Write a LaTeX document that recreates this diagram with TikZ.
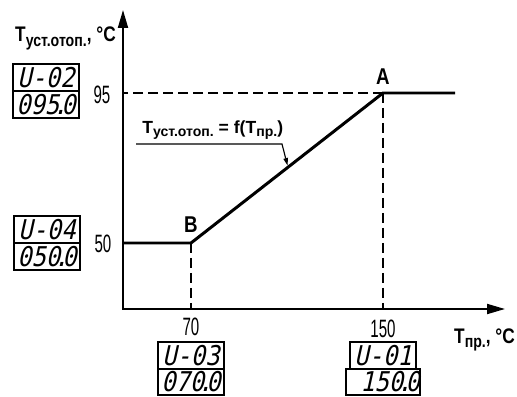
\documentclass[tikz,border=0pt]{standalone}
\usepackage{fontspec}
\setmainfont[FakeStretch=0.6]{Liberation Sans}
\newfontfamily\labelfont[FakeStretch=0.82]{Liberation Sans}
\newfontfamily\notefont{Liberation Sans}
\newfontfamily\lcdfont[FakeSlant=0.22,FakeStretch=0.87]{DejaVu Sans Mono}
\usetikzlibrary{positioning}
\usetikzlibrary{calc, arrows.meta}
\newcommand{\lowidx}[2][9.8]{\raisebox{-0.4ex}{\fontsize{#1}{#1}\selectfont #2}}
\newcommand{\lcddot}{{\kern-0.22em}.{\kern-0.22em}}
\tikzset{
  axis/.style={line width=1.1pt,-{Triangle[length=3.6mm,width=2mm]}},
  graph/.style={line width=1.7pt},
  guide/.style={line width=0.7pt,dash pattern=on 2mm off 1mm},
  leader/.style={line width=0.65pt,-{Triangle[length=1.5mm,width=0.9mm]},shorten >=1pt},
  lcd/.style={draw,line width=0.8pt,minimum width=1.32cm,minimum height=0.54cm,
    inner sep=0pt,outer sep=0pt,text height=0.4cm,text depth=0pt,
    font=\lcdfont\fontsize{15.5}{15.5}\selectfont},
  tick/.style={font=\fontsize{14.3}{14.3}\selectfont},
  point/.style={font=\labelfont\bfseries\fontsize{13}{13}\selectfont},
  axlabel/.style={font=\labelfont\bfseries\fontsize{12}{12}\selectfont,anchor=base west}
}
\begin{document}
\begin{tikzpicture}[x=0.02cm,y=0.02cm]
\useasboundingbox (-123,-87) rectangle (394,309);
\coordinate (O) at (0,0);
\coordinate (xend) at (382,0);
\coordinate (yend) at (0,299);
\coordinate (A) at (260,216);
\coordinate (B) at (68,66);
\coordinate (L) at (0,66);
\coordinate (R) at (332,216);

\draw[guide] (A) -- (O |- A);
\draw[guide] (A) -- (A |- O);
\draw[guide] (B) -- (B |- O);
\draw[graph] (L) -- (B) -- (A) -- (R);
\draw[axis] (0,-0.5) -- (yend);
\draw[axis] (-0.5,0) -- (xend);

\node[tick] (t95) at (-21,214) {95};
\node[tick] (t50) at (-20,65) {50};
\node[tick] (t70) at (68,-18) {70};
\node[tick] (t150) at (260,-20) {150};
\node[point] (lA) at (260,232) {A};
\node[point] (lB) at (68,84) {B};

\node[axlabel] (ylab) at (-114,267) {T\lowidx{уст.отоп.}, °C};
\node[axlabel] (xlab) at (325,-34) {T\lowidx{пр.}, °C};

\node[font=\notefont\bfseries\fontsize{10}{10}\selectfont,anchor=south west,inner xsep=0.12cm,inner ysep=0.08cm] (fx) at (13,165) {T\lowidx[8]{уст.отоп.} = f(T\lowidx[8]{пр.})};
\coordinate (tip) at ($(B)!0.505!(A)$);
\coordinate (knee) at ($(fx.south west)+(146,0)$);
\draw[leader] (fx.south west) -- (knee) -- (tip);

\node[lcd,anchor=south] (u02) at (-77,218) {U-02};
\node[lcd,below=0pt of u02] (v02) {095\lcddot0};
\node[lcd,anchor=south] (u04) at (-76,66) {U-04};
\node[lcd,below=0pt of u04] (v04) {050\lcddot0};
\node[lcd,anchor=north] (u03) at (68,-33) {U-03};
\node[lcd,below=0pt of u03,minimum height=0.52cm] (v03) {070\lcddot0};
\node[lcd,anchor=north] (u01) at (260,-33) {U-01};
\node[lcd,below=0pt of u01,minimum height=0.52cm] (v01) {\phantom{0}150\lcddot0};

\end{tikzpicture}
\end{document}
